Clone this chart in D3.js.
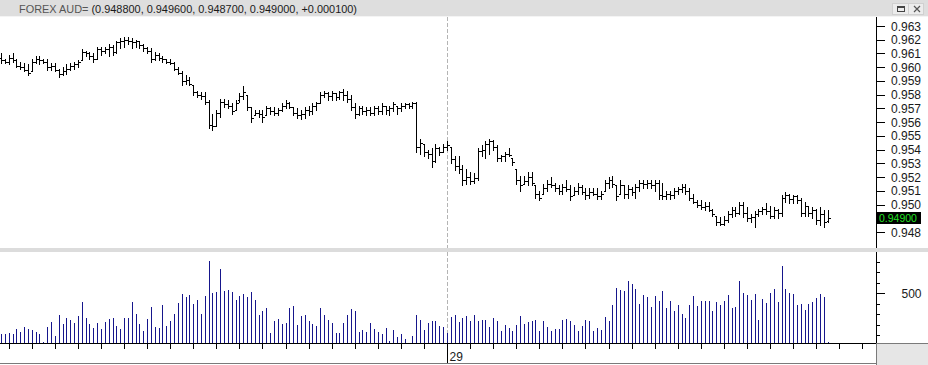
<!DOCTYPE html>
<html><head><meta charset="utf-8">
<script src="https://cdn.jsdelivr.net/npm/d3@7"></script>
<style>body{margin:0;background:#fff}svg{display:block}</style>
</head><body><svg id="c" width="928" height="365"></svg>
<script>
// ---- data (10-minute bars) ----
const highs=[0.9610,0.9606,0.9609,0.9610,0.9606,0.9604,0.9603,0.9602,0.9606,0.9608,
0.9608,0.9606,0.9606,0.9603,0.9603,0.9599,0.9600,0.9602,0.9603,0.9604,
0.9605,0.9613,0.9612,0.9611,0.9610,0.9615,0.9615,0.9615,0.9617,0.9616,
0.9619,0.9621,0.9622,0.9622,0.9621,0.9620,0.9619,0.9617,0.9615,0.9614,
0.9611,0.9610,0.9608,0.9606,0.9606,0.9604,0.9600,0.9597,0.9594,0.9593,
0.9587,0.9583,0.9582,0.9582,0.9576,0.9566,0.9569,0.9577,0.9577,0.9576,
0.9574,0.9576,0.9581,0.9586,0.9580,0.9571,0.9569,0.9569,0.9569,0.9572,
0.9571,0.9571,0.9570,0.9574,0.9576,0.9575,0.9571,0.9570,0.9569,0.9571,
0.9572,0.9574,0.9575,0.9582,0.9583,0.9582,0.9583,0.9581,0.9583,0.9584,
0.9583,0.9580,0.9574,0.9572,0.9572,0.9571,0.9571,0.9572,0.9572,0.9574,
0.9572,0.9572,0.9575,0.9572,0.9574,0.9574,0.9574,0.9575,0.9575,0.9548,
0.9544,0.9540,0.9541,0.9544,0.9542,0.9544,0.9546,0.9542,0.9535,0.9535,
0.9529,0.9526,0.9524,0.9523,0.9541,0.9543,0.9546,0.9548,0.9547,0.9543,
0.9536,0.9538,0.9541,0.9534,0.9526,0.9521,0.9521,0.9524,0.9524,0.9514,
0.9510,0.9515,0.9518,0.9520,0.9516,0.9514,0.9515,0.9518,0.9514,0.9513,
0.9516,0.9514,0.9512,0.9512,0.9512,0.9512,0.9510,0.9518,0.9520,0.9521,
0.9514,0.9518,0.9514,0.9514,0.9513,0.9515,0.9518,0.9518,0.9518,0.9518,
0.9518,0.9518,0.9516,0.9510,0.9510,0.9512,0.9513,0.9515,0.9515,0.9512,
0.9508,0.9503,0.9503,0.9502,0.9502,0.9497,0.9492,0.9491,0.9492,0.9495,
0.9498,0.9498,0.9502,0.9502,0.9498,0.9493,0.9495,0.9497,0.9498,0.9501,
0.9499,0.9498,0.9497,0.9507,0.9509,0.9508,0.9507,0.9507,0.9505,0.9502,
0.9499,0.9498,0.9497,0.9498,0.9496,0.9496];
const lows=[0.9603,0.9603,0.9602,0.9604,0.9600,0.9599,0.9597,0.9594,0.9597,0.9603,
0.9602,0.9603,0.9598,0.9598,0.9597,0.9593,0.9594,0.9595,0.9598,0.9599,
0.9600,0.9605,0.9608,0.9606,0.9604,0.9606,0.9609,0.9610,0.9608,0.9609,
0.9610,0.9614,0.9615,0.9617,0.9614,0.9615,0.9614,0.9612,0.9610,0.9604,
0.9605,0.9605,0.9604,0.9603,0.9602,0.9598,0.9595,0.9587,0.9588,0.9587,
0.9580,0.9578,0.9577,0.9573,0.9556,0.9554,0.9557,0.9564,0.9571,0.9570,
0.9566,0.9569,0.9575,0.9577,0.9569,0.9560,0.9565,0.9564,0.9560,0.9565,
0.9566,0.9565,0.9565,0.9568,0.9570,0.9570,0.9565,0.9563,0.9562,0.9563,
0.9565,0.9566,0.9569,0.9574,0.9578,0.9576,0.9576,0.9576,0.9577,0.9576,
0.9575,0.9569,0.9563,0.9565,0.9566,0.9565,0.9565,0.9565,0.9566,0.9566,
0.9566,0.9565,0.9568,0.9566,0.9568,0.9570,0.9570,0.9570,0.9538,0.9537,
0.9535,0.9534,0.9527,0.9531,0.9536,0.9538,0.9540,0.9530,0.9525,0.9523,
0.9514,0.9515,0.9515,0.9516,0.9518,0.9535,0.9534,0.9537,0.9540,0.9532,
0.9532,0.9532,0.9535,0.9529,0.9515,0.9510,0.9515,0.9514,0.9514,0.9505,
0.9503,0.9508,0.9510,0.9513,0.9510,0.9508,0.9508,0.9510,0.9503,0.9507,
0.9508,0.9508,0.9504,0.9505,0.9507,0.9504,0.9504,0.9510,0.9512,0.9513,
0.9503,0.9508,0.9505,0.9505,0.9507,0.9505,0.9510,0.9512,0.9512,0.9512,
0.9510,0.9504,0.9504,0.9504,0.9504,0.9505,0.9508,0.9509,0.9508,0.9503,
0.9501,0.9498,0.9497,0.9496,0.9495,0.9492,0.9485,0.9485,0.9485,0.9487,
0.9491,0.9492,0.9493,0.9491,0.9488,0.9487,0.9484,0.9492,0.9493,0.9493,
0.9490,0.9490,0.9490,0.9492,0.9502,0.9501,0.9501,0.9501,0.9492,0.9492,
0.9492,0.9490,0.9486,0.9485,0.9484,0.9487];
const opens=[0.9607,0.9605,0.9604,0.9607,0.9605,0.9601,0.9600,0.9598,0.9597,0.9604,
0.9606,0.9605,0.9604,0.9600,0.9601,0.9598,0.9595,0.9597,0.9599,0.9601,
0.9602,0.9605,0.9611,0.9610,0.9608,0.9606,0.9613,0.9612,0.9613,0.9615,
0.9611,0.9618,0.9619,0.9620,0.9619,0.9618,0.9619,0.9616,0.9614,0.9612,
0.9606,0.9609,0.9607,0.9606,0.9604,0.9603,0.9599,0.9596,0.9590,0.9591,
0.9587,0.9582,0.9580,0.9579,0.9575,0.9558,0.9557,0.9567,0.9575,0.9573,
0.9572,0.9569,0.9576,0.9579,0.9580,0.9571,0.9565,0.9567,0.9566,0.9565,
0.9570,0.9568,0.9567,0.9569,0.9572,0.9574,0.9571,0.9567,0.9565,0.9566,
0.9569,0.9568,0.9572,0.9574,0.9580,0.9581,0.9579,0.9581,0.9578,0.9582,
0.9580,0.9577,0.9571,0.9566,0.9570,0.9568,0.9569,0.9567,0.9570,0.9568,
0.9572,0.9569,0.9570,0.9572,0.9570,0.9572,0.9573,0.9572,0.9574,0.9542,
0.9544,0.9538,0.9537,0.9532,0.9541,0.9538,0.9542,0.9542,0.9533,0.9528,
0.9526,0.9518,0.9520,0.9517,0.9519,0.9539,0.9540,0.9544,0.9546,0.9542,
0.9534,0.9535,0.9537,0.9534,0.9526,0.9518,0.9515,0.9517,0.9520,0.9514,
0.9508,0.9508,0.9512,0.9515,0.9514,0.9512,0.9510,0.9513,0.9511,0.9507,
0.9510,0.9513,0.9509,0.9507,0.9509,0.9508,0.9506,0.9510,0.9516,0.9518,
0.9514,0.9508,0.9514,0.9508,0.9511,0.9509,0.9513,0.9516,0.9515,0.9516,
0.9514,0.9516,0.9507,0.9506,0.9508,0.9507,0.9510,0.9511,0.9513,0.9510,
0.9505,0.9502,0.9500,0.9498,0.9499,0.9496,0.9492,0.9487,0.9486,0.9489,
0.9493,0.9496,0.9494,0.9500,0.9494,0.9490,0.9491,0.9493,0.9495,0.9497,
0.9495,0.9492,0.9496,0.9494,0.9505,0.9507,0.9504,0.9506,0.9503,0.9494,
0.9499,0.9494,0.9496,0.9489,0.9493,0.9488];
const closes=[0.9605,0.9604,0.9607,0.9605,0.9601,0.9600,0.9598,0.9596,0.9604,0.9606,
0.9605,0.9604,0.9600,0.9601,0.9598,0.9595,0.9597,0.9599,0.9601,0.9602,
0.9604,0.9611,0.9610,0.9608,0.9606,0.9613,0.9612,0.9613,0.9615,0.9611,
0.9618,0.9619,0.9620,0.9619,0.9618,0.9619,0.9616,0.9614,0.9612,0.9606,
0.9609,0.9607,0.9606,0.9604,0.9603,0.9599,0.9596,0.9590,0.9591,0.9588,
0.9582,0.9580,0.9579,0.9575,0.9558,0.9557,0.9567,0.9575,0.9573,0.9572,
0.9568,0.9574,0.9579,0.9582,0.9571,0.9563,0.9567,0.9566,0.9564,0.9570,
0.9568,0.9567,0.9569,0.9572,0.9574,0.9571,0.9567,0.9565,0.9566,0.9569,
0.9568,0.9572,0.9574,0.9580,0.9581,0.9579,0.9581,0.9578,0.9582,0.9580,
0.9577,0.9571,0.9566,0.9570,0.9568,0.9569,0.9567,0.9570,0.9568,0.9572,
0.9569,0.9570,0.9573,0.9570,0.9572,0.9573,0.9572,0.9574,0.9542,0.9545,
0.9538,0.9537,0.9532,0.9541,0.9538,0.9542,0.9543,0.9533,0.9528,0.9526,
0.9518,0.9520,0.9517,0.9519,0.9539,0.9540,0.9544,0.9546,0.9542,0.9534,
0.9535,0.9537,0.9536,0.9531,0.9518,0.9514,0.9517,0.9520,0.9516,0.9508,
0.9505,0.9512,0.9515,0.9514,0.9512,0.9510,0.9513,0.9511,0.9506,0.9510,
0.9513,0.9509,0.9507,0.9509,0.9508,0.9506,0.9508,0.9516,0.9518,0.9515,
0.9506,0.9514,0.9508,0.9511,0.9509,0.9513,0.9516,0.9515,0.9516,0.9514,
0.9516,0.9507,0.9506,0.9508,0.9507,0.9510,0.9511,0.9513,0.9510,0.9505,
0.9502,0.9500,0.9498,0.9499,0.9496,0.9493,0.9487,0.9486,0.9489,0.9493,
0.9496,0.9494,0.9500,0.9494,0.9490,0.9491,0.9493,0.9495,0.9497,0.9495,
0.9492,0.9496,0.9494,0.9505,0.9507,0.9504,0.9506,0.9503,0.9494,0.9499,
0.9494,0.9496,0.9489,0.9493,0.9487,0.9490];
const volumes=[110,110,119,110,157,129,179,160,148,129,
110,33,179,224,94,294,208,268,243,217,
284,418,265,205,173,217,160,224,256,265,
189,160,265,265,418,303,208,141,256,370,
179,170,389,189,237,303,408,494,462,484,
398,437,303,475,811,503,516,732,522,532,
510,437,475,494,465,513,437,294,332,360,
122,237,256,208,217,360,379,198,284,294,
237,208,189,360,294,243,217,122,122,214,
294,351,332,132,151,132,217,160,132,113,
170,49,151,84,113,65,15,94,294,246,
151,217,237,237,189,179,122,275,294,227,
265,284,237,294,237,243,243,179,265,233,
141,198,170,141,198,284,208,224,233,243,
141,233,179,141,160,160,246,256,233,198,
141,189,243,237,141,167,151,275,237,389,
551,532,522,618,589,541,398,484,465,370,
475,427,522,360,427,332,389,303,265,389,
475,379,427,427,427,332,418,389,427,484,
364,370,618,503,484,437,494,246,446,408,
503,541,418,760,541,503,494,389,398,341,
398,418,456,494,465,40];
const priceTicks=[0.948,0.949,0.950,0.951,0.952,0.953,0.954,0.955,0.956,0.957,0.958,0.959,0.960,0.961,0.962,0.963];
const volumeTicks=[100,200,300,400,500,600,700,800];
const volumeLabels=[500];
const hourTicks=d3.range(2,226,6);   // one tick per hour (6 bars)
const dayTickIndex=116, dayLabel="29";
const symbolText="FOREX AUD=";
const quoteText="(0.948800, 0.949600, 0.948700, 0.949000, +0.000100)";
const lastPrice=0.949, lastPriceText="0.94900";

// ---- layout ----
const svg=d3.select("#c");
const W=928,H=365, axisX=876;
const topY0=17, topY1=248, volY0=252, volY1=343;
const font="'Liberation Sans',Arial,sans-serif";

const x=d3.scaleLinear().domain([0,215]).range([1,827.7]);
const y=d3.scaleLinear().domain([0.948,0.963]).range([232,26]);
const yv=d3.scaleLinear().domain([0,500]).range([345.8,293.3]);
const px=i=>Math.round(x(i))+0.5;
const py=v=>Math.round(y(v))+0.5;

svg.append("rect").attr("width",W).attr("height",H).attr("fill","#fff");

// title bar
svg.append("rect").attr("x",0).attr("y",0).attr("width",W).attr("height",topY0).attr("fill","#dedede");
svg.append("line").attr("x1",0).attr("x2",W).attr("y1",topY0-0.5).attr("y2",topY0-0.5).attr("stroke","#f4f4f4");
const tt=svg.append("text").attr("x",19).attr("y",12.5).attr("font-family",font).attr("font-size",11)
  .attr("textLength",338).attr("lengthAdjust","spacingAndGlyphs");
tt.append("tspan").attr("fill","#555").text(symbolText+" ");
tt.append("tspan").attr("fill","#1a1a1a").text(quoteText);
// window buttons
const btn=svg.append("g");
btn.append("rect").attr("x",892.5).attr("y",3.5).attr("width",31).attr("height",11).attr("fill","#ececec").attr("stroke","#d0d0d0");
btn.append("rect").attr("x",897.5).attr("y",6.5).attr("width",7).attr("height",5).attr("fill","none").attr("stroke","#444");
btn.append("line").attr("x1",897.5).attr("x2",904.5).attr("y1",7.5).attr("y2",7.5).attr("stroke","#444");
btn.append("line").attr("x1",908.5).attr("x2",908.5).attr("y1",4).attr("y2",14).attr("stroke","#d0d0d0");
btn.append("path").attr("d","M914,6L920,12M920,6L914,12").attr("stroke","#555").attr("stroke-width",1.2);

// separator between panels
svg.append("rect").attr("x",0).attr("y",topY1).attr("width",W).attr("height",volY0-topY1).attr("fill","#dcdcdc");

// day divider (dashed)
[[topY0,topY1],[volY0,volY1]].forEach(([a,b])=>{
  svg.append("line").attr("x1",px(dayTickIndex)).attr("x2",px(dayTickIndex)).attr("y1",a).attr("y2",b)
    .attr("stroke","#b4b4b4").attr("stroke-dasharray","4,2");
});

// OHLC bars
const bars=svg.append("g").attr("stroke","#000").attr("shape-rendering","crispEdges");
highs.forEach((h,i)=>{
  const cx=px(i);
  bars.append("line").attr("x1",cx).attr("x2",cx).attr("y1",Math.round(y(h))).attr("y2",Math.round(y(lows[i]))+1);
  bars.append("line").attr("x1",cx-2).attr("x2",cx).attr("y1",py(opens[i])).attr("y2",py(opens[i]));
  bars.append("line").attr("x1",cx).attr("x2",cx+2.5).attr("y1",py(closes[i])).attr("y2",py(closes[i]));
});

// volume bars
const vb=svg.append("g").attr("stroke","#16168c").attr("shape-rendering","crispEdges");
volumes.forEach((v,i)=>{
  const top=Math.min(volY1,Math.round(yv(v)));
  if(top<volY1) vb.append("line").attr("x1",px(i)).attr("x2",px(i)).attr("y1",top).attr("y2",volY1);
});

// price axis
const ax=svg.append("g").attr("shape-rendering","crispEdges");
ax.append("line").attr("x1",axisX+0.5).attr("x2",axisX+0.5).attr("y1",topY0).attr("y2",topY1).attr("stroke","#000");
priceTicks.forEach(t=>{
  ax.append("line").attr("x1",axisX).attr("x2",axisX+9).attr("y1",py(t)).attr("y2",py(t)).attr("stroke","#000");
  // the label under the last-price marker is hidden, as in the reference
  if(Math.abs(t-lastPrice)>0.0004)
    svg.append("text").attr("x",891).attr("y",y(t)+4.5).attr("font-family",font).attr("font-size",12)
      .attr("fill","#1a1a1a").text(d3.format(".3f")(t));
});
// last price marker
svg.append("rect").attr("x",877).attr("y",212).attr("width",44).attr("height",12).attr("fill","#000");
svg.append("text").attr("x",879).attr("y",222).attr("font-family",font).attr("font-size",10.5)
  .attr("fill","#22e022").text(lastPriceText);

// volume axis
ax.append("line").attr("x1",axisX+0.5).attr("x2",axisX+0.5).attr("y1",volY0).attr("y2",volY1).attr("stroke","#000");
volumeTicks.forEach(t=>{
  const long=volumeLabels.includes(t);
  ax.append("line").attr("x1",axisX).attr("x2",axisX+(long?9:4)).attr("y1",Math.round(yv(t))+0.5).attr("y2",Math.round(yv(t))+0.5).attr("stroke","#000");
});
volumeLabels.forEach(t=>{
  svg.append("text").attr("x",901.5).attr("y",yv(t)+5).attr("font-family",font).attr("font-size",12)
    .attr("fill","#1a1a1a").text(t);
});

// time axis
ax.append("line").attr("x1",0).attr("x2",axisX).attr("y1",volY1+0.5).attr("y2",volY1+0.5).attr("stroke","#000");
hourTicks.forEach(i=>{
  const isDay=i===dayTickIndex;
  ax.append("line").attr("x1",px(i)).attr("x2",px(i)).attr("y1",volY1).attr("y2",isDay?363:349).attr("stroke","#000");
});
svg.append("text").attr("x",px(dayTickIndex)+2).attr("y",361).attr("font-family",font).attr("font-size",12)
  .attr("fill","#1a1a1a").text(dayLabel);
ax.append("line").attr("x1",0).attr("x2",axisX).attr("y1",363.5).attr("y2",363.5).attr("stroke","#7a7a7a");
// corner box
ax.append("rect").attr("x",axisX+0.5).attr("y",volY1+0.5).attr("width",W-axisX).attr("height",H-volY1).attr("fill","#e6e6e6").attr("stroke","#7a7a7a");
</script></body></html>
